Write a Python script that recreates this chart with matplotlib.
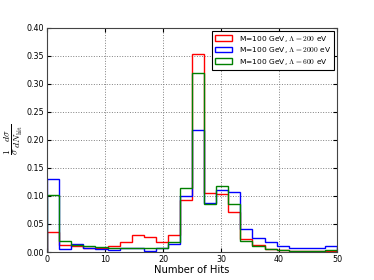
import numpy as np
import matplotlib
matplotlib.use("Agg")
import matplotlib.pyplot as plt

plt.rcParams['mathtext.fontset'] = 'cm'

n_bins = 24
x_min, x_max = 0, 50
red_vals = [0.036, 0.013, 0.010, 0.008, 0.008, 0.011, 0.017, 0.030, 0.026, 0.018, 0.030, 0.093,
            0.353, 0.106, 0.104, 0.072, 0.024, 0.012, 0.005, 0.003, 0.002, 0.001, 0.001, 0.001]
blue_vals = [0.130, 0.005, 0.014, 0.007, 0.005, 0.004, 0.007, 0.007, 0.002, 0.008, 0.014, 0.099,
             0.218, 0.088, 0.110, 0.107, 0.041, 0.025, 0.018, 0.011, 0.007, 0.008, 0.007, 0.011]
green_vals = [0.101, 0.020, 0.013, 0.010, 0.009, 0.008, 0.008, 0.008, 0.007, 0.007, 0.018, 0.114,
              0.320, 0.085, 0.118, 0.085, 0.020, 0.011, 0.006, 0.003, 0.002, 0.002, 0.002, 0.003]
labels = [r'M=100 GeV, $\Lambda=200$ eV', r'M=100 GeV, $\Lambda=2000$ eV', r'M=100 GeV, $\Lambda=600$ eV']
colors = ['red', 'blue', 'green']

edges = np.linspace(x_min, x_max, n_bins + 1)
centers = 0.5 * (edges[:-1] + edges[1:])

fig = plt.figure(figsize=(3.74, 2.8), dpi=100)
ax = fig.add_axes([0.126, 0.1, 0.775, 0.801])
for vals, c, lab in zip([red_vals, blue_vals, green_vals], colors, labels):
    ax.hist(centers, bins=edges, weights=vals, histtype='step', color=c, lw=1.0, label=lab)

ax.set_xlim(0, 50)
ax.set_ylim(0, 0.40)
ax.set_xticks(np.arange(0, 51, 10))
ax.set_yticks(np.arange(0, 0.401, 0.05))
ax.yaxis.set_major_formatter(matplotlib.ticker.FormatStrFormatter('%.2f'))
ax.grid(True, linestyle=':', color='gray', lw=0.7)
ax.tick_params(direction='in', top=True, right=True, labelsize=5.8, length=3, pad=2)
for sp in ax.spines.values():
    sp.set_color('#444444')
ax.set_xlabel('Number of Hits', fontsize=7.2, labelpad=1)
ax.set_ylabel(r'$\frac{1}{\sigma}\frac{d\sigma}{dN_{\rm hit}}$', fontsize=10)
ax.yaxis.set_label_coords(-0.075, 0.5)
leg = ax.legend(loc='upper right', fontsize=5.4, fancybox=False, edgecolor='black',
                framealpha=1, handlelength=2.2, handleheight=0.7, handletextpad=0.9,
                borderpad=0.4, labelspacing=0.2, borderaxespad=0.4)
leg.get_frame().set_linewidth(0.8)
fig.savefig('out.png', dpi=100, facecolor='white')
